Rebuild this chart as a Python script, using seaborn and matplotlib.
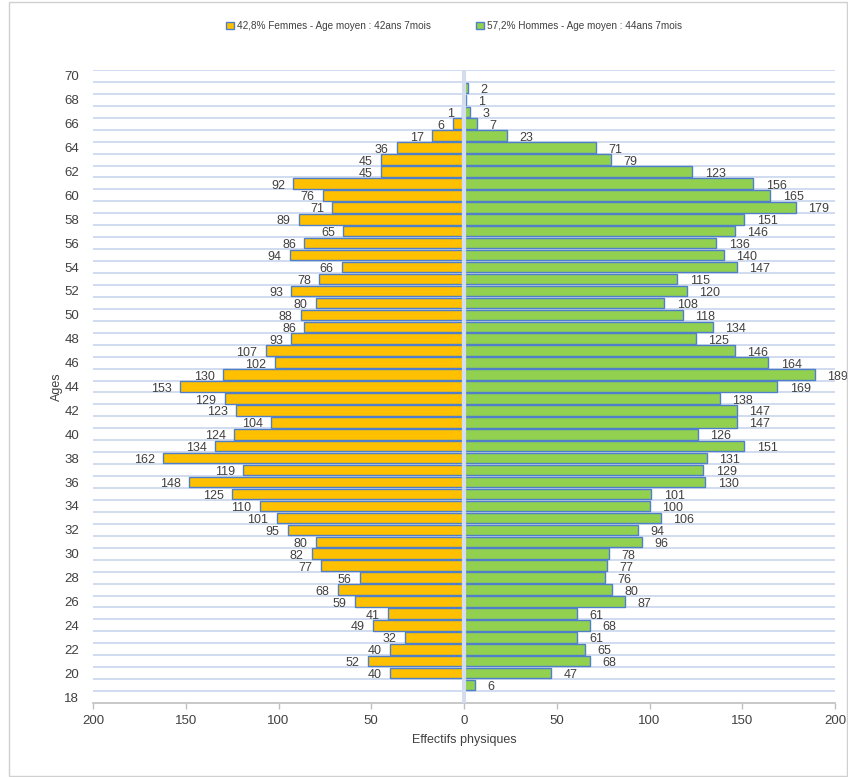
import matplotlib
matplotlib.use("Agg")
import matplotlib.pyplot as plt
import matplotlib.patches as mpatches
import numpy as np
import pandas as pd
import seaborn as sns

# ages, oldest first
ages = list(range(70, 17, -1))
femmes = [0, 0, 0, 1, 6, 17, 36, 45, 45, 92, 76, 71, 89, 65, 86, 94, 66, 78, 93, 80,
          88, 86, 93, 107, 102, 130, 153, 129, 123, 104, 124, 134, 162, 119, 148, 125,
          110, 101, 95, 80, 82, 77, 56, 68, 59, 41, 49, 32, 40, 52, 40, 0, 0]
hommes = [0, 2, 1, 3, 7, 23, 71, 79, 123, 156, 165, 179, 151, 146, 136, 140, 147, 115,
          120, 108, 118, 134, 125, 146, 164, 189, 169, 138, 147, 147, 126, 151, 131, 129,
          130, 101, 100, 106, 94, 96, 78, 77, 76, 80, 87, 61, 68, 61, 65, 68, 47, 6, 0]
label_f = "42,8% Femmes - Age moyen : 42ans 7mois"
label_h = "57,2% Hommes - Age moyen : 44ans 7mois"
x_ticks = [-200, -150, -100, -50, 0, 50, 100, 150, 200]

col_f = "#FFC000"
col_h = "#92D050"
edge = "#4F7FC9"
grid_col = "#C9D6EE"
txt = "#404040"

sns.set_theme(style="white")
plt.rcParams['font.family'] = ['Liberation Sans Narrow', 'Liberation Sans', 'DejaVu Sans']

df = pd.DataFrame({'age': ages, 'femmes': femmes, 'hommes': hommes})
df['femmes_neg'] = -df['femmes']

fig = plt.figure(figsize=(8.48, 7.77), dpi=100)
ax = fig.add_axes([93 / 848, 1 - 703 / 777, 742 / 848, 633 / 777])

sns.barplot(data=df, x='femmes_neg', y='age', orient='h', native_scale=True,
            color=col_f, saturation=1, width=0.88, edgecolor=edge, linewidth=1.0, ax=ax)
sns.barplot(data=df, x='hommes', y='age', orient='h', native_scale=True,
            color=col_h, saturation=1, width=0.88, edgecolor=edge, linewidth=1.0, ax=ax)

ax.set_xlim(-200, 200)
ax.set_ylim(17.5, 70.5)

# horizontal gridlines between age bands
for yb in np.arange(18.5, 71, 1.0):
    ax.axhline(yb, color=grid_col, lw=1.2, zorder=0)
ax.axvline(0, color="#D3DDEF", lw=3, zorder=5)

# value labels
for a, f, h in zip(ages, femmes, hommes):
    if f > 0:
        ax.annotate(str(f), (-f, a), xytext=(-6, -1.5), textcoords='offset points',
                    ha='right', va='center', fontsize=9, color=txt)
    if h > 0:
        ax.annotate(str(h), (h, a), xytext=(9, -1.5), textcoords='offset points',
                    ha='left', va='center', fontsize=9, color=txt)

ax.set_xticks(x_ticks)
ax.set_xticklabels([str(abs(v)) for v in x_ticks], fontsize=9.5, color=txt)
ax.set_yticks(range(18, 71, 2))
ax.set_yticklabels([str(v) for v in range(18, 71, 2)], fontsize=9.5, color=txt)
ax.tick_params(axis='y', length=0, pad=10)
ax.tick_params(axis='x', length=4, width=1, color="#BFBFBF", direction='out', pad=5, bottom=True)

for s in ['top', 'right', 'left']:
    ax.spines[s].set_visible(False)
ax.spines['bottom'].set_color("#BFBFBF")
ax.spines['bottom'].set_linewidth(1.2)

ax.set_xlabel("Effectifs physiques", fontsize=9, color=txt, labelpad=5)
ax.set_ylabel("Ages", fontsize=9, color=txt, labelpad=1)

handles = [mpatches.Patch(facecolor=col_f, edgecolor=edge, label=label_f),
           mpatches.Patch(facecolor=col_h, edgecolor=edge, label=label_h)]
fig.legend(handles=handles, loc='center', bbox_to_anchor=(0.535, 1 - 26 / 777), ncol=2,
           frameon=False, fontsize=7.2, handlelength=0.8, handleheight=0.8,
           handletextpad=0.3, columnspacing=4.5, labelcolor=txt)

# figure border
fig.patches.append(mpatches.Rectangle((9 / 848, 0.001), 1 - 10 / 848, 0.997,
                                      transform=fig.transFigure, fill=False,
                                      edgecolor="#D0D0D0", lw=1))

fig.savefig("out.png", dpi=100, facecolor="white")
